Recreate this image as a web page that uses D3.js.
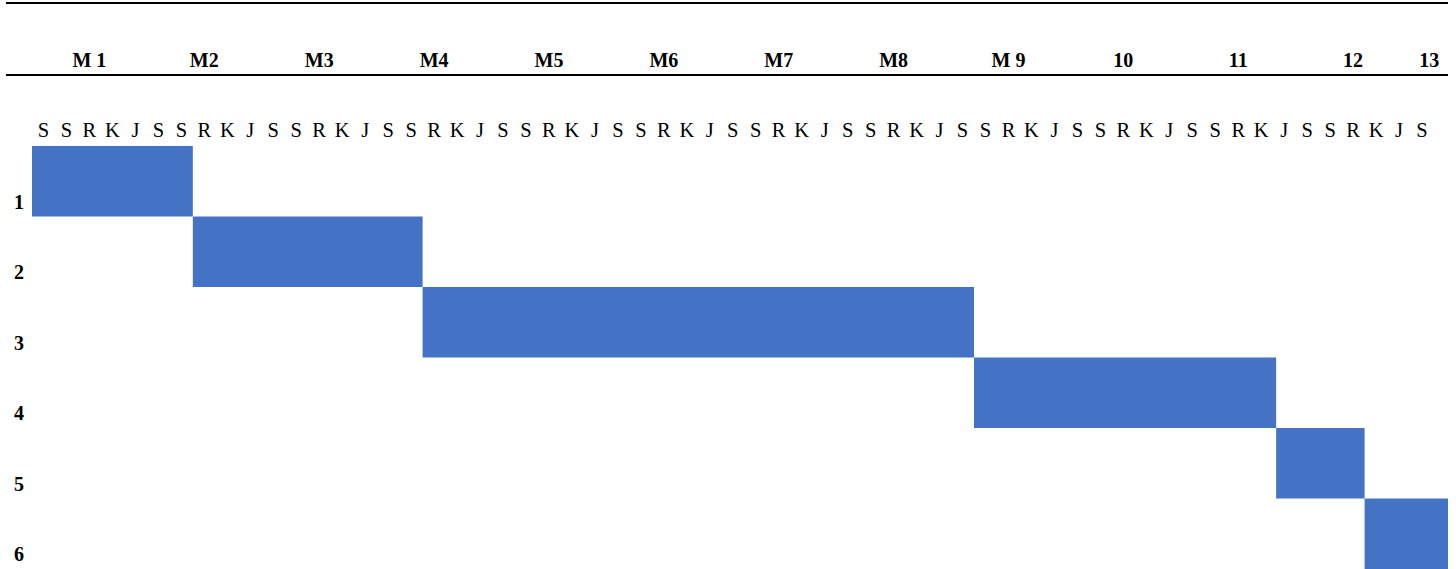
<!DOCTYPE html>
<html>
<head>
<meta charset="utf-8">
<script src="https://cdn.jsdelivr.net/npm/d3@7"></script>
<style>
  html, body { margin: 0; padding: 0; background: #ffffff; }
  svg { display: block; }
</style>
</head>
<body>
<svg id="chart" width="1456" height="569"></svg>
<script>
// Week headers and how many working days each week column holds
const weekLabels = ["M 1", "M2", "M3", "M4", "M5", "M6", "M7", "M8", "M 9", "10", "11", "12", "13"];
const weekDays = [5, 5, 5, 5, 5, 5, 5, 5, 5, 5, 5, 5, 1];
// Working-day initials repeated inside each week
const dayPattern = ["S", "S", "R", "K", "J"];
// Activity rows
const activities = ["1", "2", "3", "4", "5", "6"];
// Start and end of each activity, in working days from the start
const taskStart = [0, 7, 17, 41, 54.15, 58];
const taskEnd = [7, 17, 41, 54.15, 58, 61.63];
// Right edge of the timeline, in working days
const timelineEnd = 61.63;

const svg = d3.select("#chart");
const serif = "'Liberation Serif', 'Times New Roman', serif";
const barColor = "#4472C4";

const x = d3.scaleLinear().domain([0, timelineEnd]).range([32, 1448]);
const y = d3.scaleBand().domain(activities).range([146, 569]).padding(0);

// Horizontal rules framing the week header
svg.selectAll("line.rule")
  .data([3, 75])
  .join("line")
  .attr("class", "rule")
  .attr("x1", 6).attr("x2", x(timelineEnd))
  .attr("y1", d => d).attr("y2", d => d)
  .attr("stroke", "#000").attr("stroke-width", 2.2);

// Week spans (the final week runs to the edge of the timeline)
let acc = 0;
const weeks = weekLabels.map((label, i) => {
  const start = acc;
  acc += weekDays[i];
  const end = i === weekLabels.length - 1 ? timelineEnd : acc;
  return { label, start, end };
});

svg.selectAll("text.week")
  .data(weeks)
  .join("text")
  .attr("class", "week")
  .attr("x", d => x((d.start + d.end) / 2))
  .attr("y", 66.5)
  .attr("text-anchor", "middle")
  .attr("font-family", serif)
  .attr("font-weight", "bold")
  .attr("font-size", 20)
  .attr("fill", "#000")
  .text(d => d.label);

// Day initials under the weeks
const days = [];
weekDays.forEach(n => {
  for (let k = 0; k < n; k++) days.push(dayPattern[k % dayPattern.length]);
});

svg.selectAll("text.day")
  .data(days)
  .join("text")
  .attr("class", "day")
  .attr("x", (d, i) => x(i + 0.5))
  .attr("y", 137)
  .attr("text-anchor", "middle")
  .attr("font-family", serif)
  .attr("font-size", 20.5)
  .attr("fill", "#000")
  .text(d => d);

// Activity bars
svg.selectAll("rect.task")
  .data(activities.map((a, i) => ({ a, s: taskStart[i], e: taskEnd[i] })))
  .join("rect")
  .attr("class", "task")
  .attr("x", d => x(d.s))
  .attr("y", d => y(d.a))
  .attr("width", d => x(d.e) - x(d.s))
  .attr("height", y.bandwidth())
  .attr("fill", barColor);

// Row numbers
svg.selectAll("text.row")
  .data(activities)
  .join("text")
  .attr("class", "row")
  .attr("x", 19)
  .attr("y", d => y(d) + 62.5)
  .attr("text-anchor", "middle")
  .attr("font-family", serif)
  .attr("font-weight", "bold")
  .attr("font-size", 20)
  .attr("fill", "#000")
  .text(d => d);
</script>
</body>
</html>
